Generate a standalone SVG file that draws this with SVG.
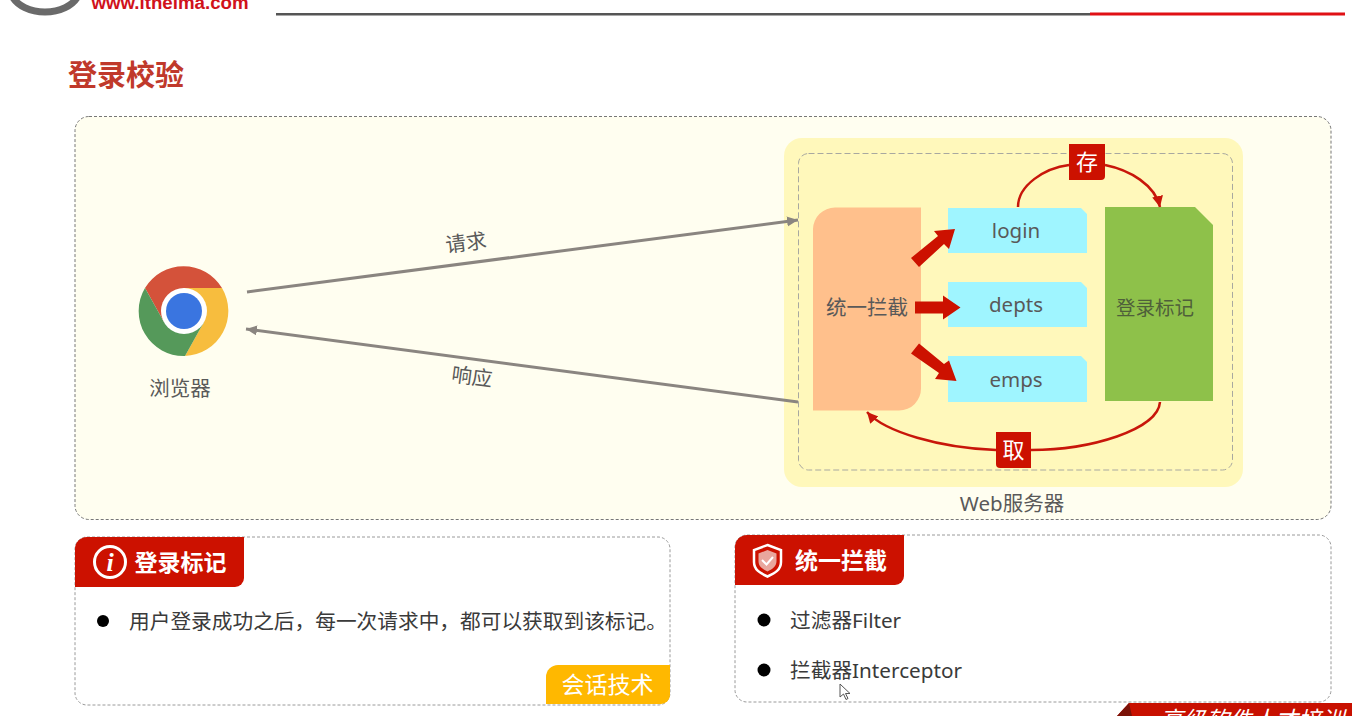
<svg xmlns="http://www.w3.org/2000/svg" width="1352" height="716" viewBox="0 0 1352 716">
<style>
text{font-family:"Noto Sans","Noto Sans CJK SC",sans-serif;fill:#595959;text-anchor:middle}
.dash{fill:none;stroke:#9a9a9a;stroke-width:1;stroke-dasharray:3 2}
.sdash{fill:none;stroke:#a8a8a0;stroke-width:1;stroke-dasharray:6 3}
.blue{fill:#9ff5ff}
.redline{fill:none;stroke:#c8160a;stroke-width:2.500}
.gray{fill:none;stroke:#8a8580;stroke-width:3}
.fat{fill:#cc1100}
.badge{fill:#cc1100}
.wt{fill:#fff;font-weight:700}
.lb{font-size:20.500px}
.dark{fill:#3a3a3a;text-anchor:start;font-size:20.700px}
</style>
<defs>
<marker id="ah" markerUnits="userSpaceOnUse" markerWidth="12" markerHeight="12" refX="11" refY="5" orient="auto"><path d="M0 0L11 5L0 10z" fill="#8a8580"/></marker>
<marker id="rh" markerUnits="userSpaceOnUse" markerWidth="14" markerHeight="14" refX="11" refY="5.500" orient="auto"><path d="M0 0L11 5.500L0 11z" fill="#c8160a"/></marker>
</defs>
<rect width="1352" height="716" fill="#fff"/>
<g id="header">
<path d="M12 -4A35 24 0 0 0 78 -4" fill="none" stroke="#6a6a6a" stroke-width="7"/>
<text x="170" y="9" style="font-family:'Liberation Sans',sans-serif;font-size:18.700px;font-weight:700;fill:#d0121b">www.itheima.com</text>
<rect x="276" y="13" width="814" height="2.500" fill="#555"/>
<rect x="1090" y="12.500" width="255" height="3" fill="#e01015"/>
<text x="126" y="86" style="font-size:29px;fill:#c0392b;font-weight:700">登录校验</text>
</g>
<rect id="panel" x="75" y="116.500" width="1256" height="403" rx="14" fill="#fffef0" stroke="#777" stroke-dasharray="3 2"/>
<g id="browser">
<path d="M184 288H222A45 45 0 0 0 145 288L164 322Z" fill="#d4523a"/>
<path d="M222 288A45 45 0 0 1 185 356L204 322L184 288Z" fill="#f7bd3e"/>
<path d="M145 288A45 45 0 0 0 185 356L204 322L164 322Z" fill="#55995a"/>
<circle cx="184" cy="311" r="23" fill="#fff"/>
<circle cx="184" cy="311" r="18" fill="#3a75e0"/>
<text x="180" y="396" class="lb">浏览器</text>
</g>
<g id="server">
<rect x="784" y="138" width="459" height="349" rx="18" fill="#fff8bb"/>
<rect x="798.500" y="153.500" width="434" height="316.500" rx="10" class="sdash"/>
<text x="1012" y="511" class="lb">Web服务器</text>
</g>
<g id="filter"><path d="M835 207.500H921V388A22 22 0 0 1 899 410.500H813V229A22 22 0 0 1 835 207.500Z" fill="#ffc08c"/><text x="867" y="315" class="lb">统一拦截</text></g>
<g id="login"><path d="M948 208H1081L1087 214V253H948Z" class="blue"/><text x="1016" y="238" class="lb">login</text></g>
<g id="depts"><path d="M948 282H1081L1087 288V327H948Z" class="blue"/><text x="1016" y="312" class="lb">depts</text></g>
<g id="emps"><path d="M948 356H1081L1087 362V402H948Z" class="blue"/><text x="1016" y="387" class="lb">emps</text></g>
<g id="mark"><path d="M1105 207H1195L1213 225V401H1105Z" fill="#8ec14a"/><text x="1155" y="315" style="font-size:19.500px;fill:#4f5f3a">登录标记</text></g>
<g id="connectors">
<path d="M247 292L798 220" class="gray" marker-end="url(#ah)"/>
<path d="M798 402L246 329" class="gray" marker-end="url(#ah)"/>
<path d="M1018 207C1018 185 1045 168 1069 165" class="redline"/>
<path d="M1105 165C1130 170 1155 185 1160 207" class="redline" marker-end="url(#rh)"/>
<path d="M1160 402C1158 430 1090 450 1031 450" class="redline"/>
<path d="M996 450C940 448 885 432 867 412" class="redline" marker-end="url(#rh)"/>
<path class="fat" d="M911 258L938 236L934 231L955 229L949 249L944 244L919 267Z"/>
<path class="fat" d="M915 301.500H943V295.500L960.500 307.500L943 319.500V313.500H915Z"/>
<path class="fat" d="M919 343.500L944 364L949 360.500L956.500 381L935 379L939 373L911 353.500Z"/>
<text x="466" y="250" class="lb" transform="rotate(-7.500 466 243)">请求</text>
<text x="472" y="384" class="lb" transform="rotate(7.500 472 377)">响应</text>
</g>
<g id="save"><path d="M1069 144H1105V176A4 4 0 0 1 1101 180H1069Z" class="badge"/><text x="1087" y="170" style="font-size:22px;fill:#fff">存</text></g>
<g id="load"><path d="M996 432H1031V468H1000A4 4 0 0 1 996 464Z" class="badge"/><text x="1013.500" y="458" style="font-size:22px;fill:#fff">取</text></g>
<g id="info-mark">
<rect x="75" y="537" width="595" height="168" rx="12" fill="#fff" class="dash"/>
<path d="M87 537H244V578A9 9 0 0 1 235 587H75V549A12 12 0 0 1 87 537Z" fill="#cc1100"/>
<circle cx="110" cy="562" r="15.500" fill="none" stroke="#fff" stroke-width="3"/>
<text x="110" y="571" style="fill:#fff;font-family:'Liberation Serif',serif;font-style:italic;font-weight:700;font-size:26px">i</text>
<text x="180.500" y="570.500" class="wt" style="font-size:23px">登录标记</text>
<circle cx="103" cy="621" r="6" fill="#000"/>
<text x="129" y="629" class="dark">用户登录成功之后，每一次请求中，都可以获取到该标记。</text>
<path d="M558 665H670V695A9 9 0 0 1 661 704H546V677A12 12 0 0 1 558 665Z" fill="#ffb800"/>
<text x="607.500" y="692.500" style="fill:#fff;font-size:23px">会话技术</text>
</g>
<g id="info-filter">
<rect x="735" y="535" width="596" height="167" rx="12" fill="#fff" class="dash"/>
<path d="M747 535H904V576A9 9 0 0 1 895 585H735V547A12 12 0 0 1 747 535Z" fill="#cc1100"/>
<path d="M767.500 545L781 550V562C781 570 775 573 767.500 576.500C760 573 754 570 754 562V550Z" fill="none" stroke="#fff" stroke-width="2.500"/>
<path d="M767.500 550L776.500 553.500V561C776.500 567 772 569 767.500 571.500C763 569 758.500 567 758.500 561V553.500Z" fill="#e9a79d"/>
<path d="M762 560L766.500 564.500L773 557" fill="none" stroke="#fff" stroke-width="2"/>
<text x="841" y="568.500" class="wt" style="font-size:23px">统一拦截</text>
<circle cx="764" cy="620" r="6.500" fill="#000"/>
<text x="790" y="628" class="dark">过滤器Filter</text>
<circle cx="764" cy="670" r="6.500" fill="#000"/>
<text x="790" y="678" class="dark">拦截器Interceptor</text>
<path d="M840 684V697L843.500 694L846 699.500L848 698.500L845.500 693.500L850 693.500Z" fill="#fff" stroke="#555"/>
</g>
<g id="ribbon">
<path d="M1117 716L1129 703H1352V716Z" fill="#c81000"/>
<path d="M1117 716L1129 703L1132 716Z" fill="#7a1208"/>
<text x="1252" y="728" style="font-family:'Noto Sans CJK SC',sans-serif;font-style:italic;font-size:23px;fill:#fff">高级软件人才培训</text>
</g>
</svg>
